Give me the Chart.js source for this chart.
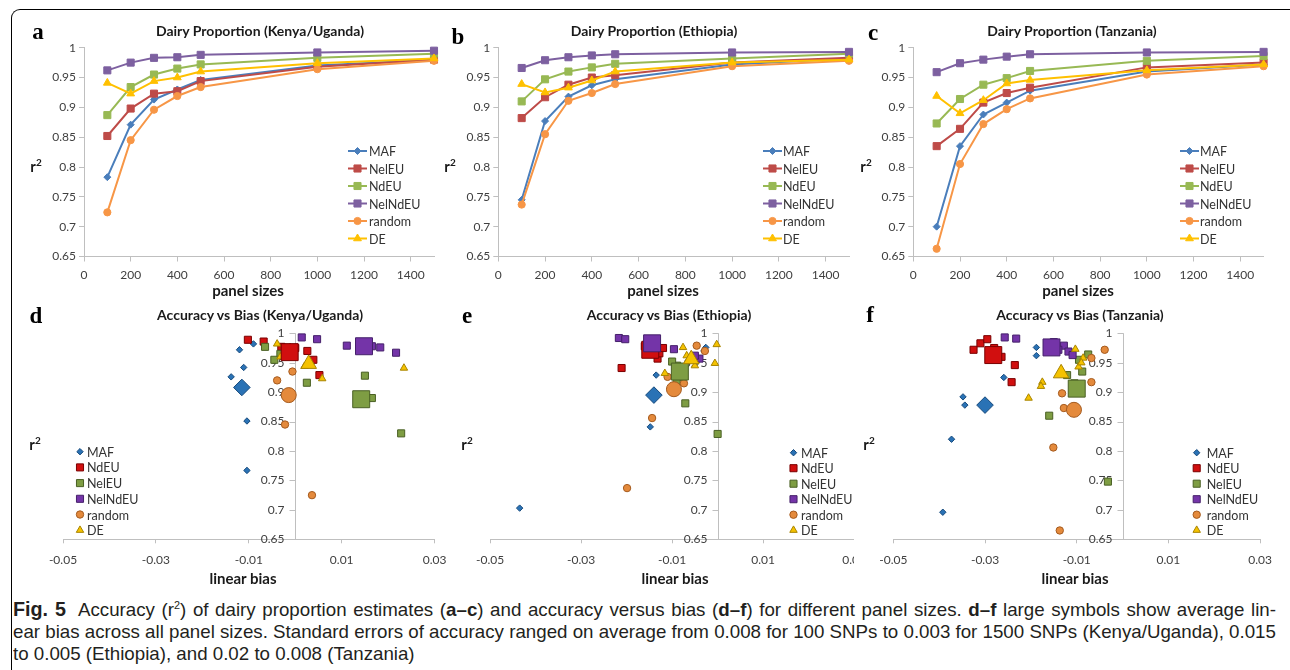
<!DOCTYPE html>
<html>
<head>
<meta charset="utf-8">
<script src="https://cdn.jsdelivr.net/npm/chart.js@4.4.1/dist/chart.umd.min.js"></script>
<style>
  body { margin: 0; width: 1290px; height: 670px; overflow: hidden; position: relative; background: #fff; font-family: Lato, "Liberation Sans", sans-serif; }
  .frame { position: absolute; left: 11px; top: 9px; width: 1300px; height: 700px; border-top: 1px solid #000; border-left: 1px solid #000; border-top-left-radius: 9px; }
  canvas { position: absolute; z-index: 1; }
  #cvF { background: #fff; }
  .lbl { position: absolute; white-space: nowrap; transform: translate(-50%, -50%); line-height: 1; z-index: 2; color: #1a1a1a; }
  .letter { font-family: "Liberation Serif", "DejaVu Serif", serif; font-weight: bold; font-size: 23px; color: #000; }
  .title { font-weight: bold; font-size: 14px; }
  .axt { font-weight: bold; font-size: 15px; }
  .rr { font-weight: bold; font-size: 15px; }
  .rr sup { font-size: 10px; vertical-align: 6px; }
  .cl { position: absolute; left: 13px; width: 1263px; height: 22px; line-height: 22px; white-space: nowrap; font-family: "Liberation Sans", Arial, sans-serif; font-size: 19px; color: #231f20; z-index: 2; transform-origin: 0 0; }
  .cl .fig { font-size: 20px; }
  .j { text-align: justify; text-align-last: justify; }
  .cl sup { font-size: 11px; line-height: 0; }
</style>
</head>
<body>
<div class="frame"></div>

<canvas id="cvA" width="400" height="254" style="left:40px;top:36px"></canvas>
<canvas id="cvB" width="400" height="254" style="left:455px;top:36px"></canvas>
<canvas id="cvC" width="410" height="254" style="left:870px;top:36px"></canvas>
<canvas id="cvD" width="440" height="270" style="left:20px;top:320px"></canvas>
<canvas id="cvE" width="410" height="270" style="left:466px;top:320px"></canvas>
<canvas id="cvF" width="428" height="270" style="left:854px;top:320px"></canvas>

<div class="lbl letter" style="left:38px;top:31px">a</div>
<div class="lbl letter" style="left:458px;top:36px">b</div>
<div class="lbl letter" style="left:873px;top:32px">c</div>
<div class="lbl letter" style="left:36px;top:315px">d</div>
<div class="lbl letter" style="left:467px;top:315px">e</div>
<div class="lbl letter" style="left:870px;top:314px">f</div>

<div class="lbl title" style="left:260px;top:31px">Dairy Proportion (Kenya/Uganda)</div>
<div class="lbl title" style="left:654px;top:31px">Dairy Proportion (Ethiopia)</div>
<div class="lbl title" style="left:1072px;top:31px">Dairy Proportion (Tanzania)</div>
<div class="lbl title" style="left:260px;top:315px">Accuracy vs Bias (Kenya/Uganda)</div>
<div class="lbl title" style="left:669px;top:315px">Accuracy vs Bias (Ethiopia)</div>
<div class="lbl title" style="left:1080px;top:315px">Accuracy vs Bias (Tanzania)</div>

<div class="lbl axt" style="left:248px;top:290px">panel sizes</div>
<div class="lbl axt" style="left:663px;top:290px">panel sizes</div>
<div class="lbl axt" style="left:1078px;top:290px">panel sizes</div>
<div class="lbl axt" style="left:243px;top:578px">linear bias</div>
<div class="lbl axt" style="left:675px;top:578px">linear bias</div>
<div class="lbl axt" style="left:1075px;top:578px">linear bias</div>

<div class="lbl rr" style="left:36px;top:165px">r<sup>2</sup></div>
<div class="lbl rr" style="left:450px;top:165px">r<sup>2</sup></div>
<div class="lbl rr" style="left:866px;top:165px">r<sup>2</sup></div>
<div class="lbl rr" style="left:35px;top:443px">r<sup>2</sup></div>
<div class="lbl rr" style="left:467px;top:443px">r<sup>2</sup></div>
<div class="lbl rr" style="left:869px;top:443px">r<sup>2</sup></div>

<div class="cl j" id="cap1" style="top:598px"><b class="fig">Fig. 5</b>&nbsp; Accuracy (r<sup>2</sup>) of dairy proportion estimates (<b>a–c</b>) and accuracy versus bias (<b>d–f</b>) for different panel sizes. <b>d–f</b> large symbols show average lin-</div>
<div class="cl j" id="cap2" style="top:621px">ear bias across all panel sizes. Standard errors of accuracy ranged on average from 0.008 for 100 SNPs to 0.003 for 1500 SNPs (Kenya/Uganda), 0.015</div>
<div class="cl" style="top:643px">to 0.005 (Ethiopia), and 0.02 to 0.008 (Tanzania)</div>

<script>
// ---------------- data ----------------
const panelSizes = [100, 200, 300, 400, 500, 1000, 1500];
const sizeTicks = [0, 200, 400, 600, 800, 1000, 1200, 1400];
const r2Ticks = [0.65, 0.7, 0.75, 0.8, 0.85, 0.9, 0.95, 1];
const biasTicks = [-0.05, -0.03, -0.01, 0.01, 0.03];

const lineSeries = ["MAF", "NelEU", "NdEU", "NelNdEU", "random", "DE"];
const biasSeries = ["MAF", "NdEU", "NelEU", "NelNdEU", "random", "DE"];

// accuracy by panel size (a-c)
const kuMAF     = [0.783, 0.871, 0.913, 0.930, 0.946, 0.970, 0.980];
const kuNelEU   = [0.852, 0.898, 0.923, 0.927, 0.944, 0.968, 0.980];
const kuNdEU    = [0.887, 0.934, 0.955, 0.965, 0.972, 0.983, 0.990];
const kuNelNdEU = [0.962, 0.975, 0.983, 0.984, 0.988, 0.992, 0.995];
const kuRandom  = [0.724, 0.845, 0.896, 0.919, 0.934, 0.964, 0.978];
const kuDE      = [0.941, 0.923, 0.944, 0.950, 0.960, 0.974, 0.982];

const etMAF     = [0.745, 0.877, 0.918, 0.937, 0.947, 0.972, 0.982];
const etNelEU   = [0.882, 0.917, 0.938, 0.950, 0.954, 0.975, 0.983];
const etNdEU    = [0.910, 0.947, 0.960, 0.967, 0.973, 0.982, 0.990];
const etNelNdEU = [0.966, 0.979, 0.984, 0.987, 0.989, 0.992, 0.993];
const etRandom  = [0.737, 0.855, 0.911, 0.924, 0.939, 0.969, 0.978];
const etDE      = [0.939, 0.925, 0.933, 0.945, 0.960, 0.975, 0.980];

const tzMAF     = [0.700, 0.835, 0.888, 0.908, 0.928, 0.960, 0.972];
const tzNelEU   = [0.835, 0.864, 0.908, 0.924, 0.933, 0.967, 0.975];
const tzNdEU    = [0.873, 0.914, 0.938, 0.949, 0.961, 0.978, 0.986];
const tzNelNdEU = [0.959, 0.974, 0.980, 0.985, 0.989, 0.992, 0.993];
const tzRandom  = [0.663, 0.805, 0.872, 0.897, 0.915, 0.955, 0.969];
const tzDE      = [0.919, 0.890, 0.912, 0.940, 0.946, 0.962, 0.972];

// accuracy vs linear bias (d-f): [bias, r2] per panel size, plus the average
const kuBiasMAF     = [[-0.0120, 0.972], [-0.0090, 0.982], [-0.0111, 0.942], [-0.0138, 0.926], [-0.0104, 0.851], [-0.0104, 0.767], [-0.0118, 0.905]];
const kuBiasNdEU    = [[-0.0102, 0.989], [-0.0068, 0.986], [-0.0030, 0.977], [0.0000, 0.975], [0.0026, 0.970], [0.0039, 0.955], [0.0052, 0.929]];
const kuBiasNelEU   = [[-0.0065, 0.977], [-0.0032, 0.965], [-0.0045, 0.955], [0.0025, 0.916], [0.0150, 0.928], [0.0165, 0.890], [0.0228, 0.830]];
const kuBiasNelNdEU = [[0.0014, 0.993], [0.0047, 0.990], [0.0111, 0.979], [0.0140, 0.982], [0.0165, 0.978], [0.0183, 0.976], [0.0217, 0.967]];
const kuBiasRandom  = [[0.0036, 0.725], [-0.0022, 0.845], [-0.0015, 0.896], [-0.0039, 0.920], [-0.0006, 0.935], [-0.0020, 0.962], [-0.0010, 0.975]];
const kuBiasDE      = [[0.0234, 0.941], [0.0058, 0.923], [0.0020, 0.944], [0.0032, 0.951], [-0.0032, 0.960], [-0.0011, 0.976], [-0.0039, 0.982]];
const kuAvgMAF = [-0.0115, 0.908], kuAvgNdEU = [-0.0012, 0.968], kuAvgNelEU = [0.0142, 0.888];
const kuAvgNelNdEU = [0.0148, 0.978], kuAvgRandom = [-0.0014, 0.895], kuAvgDE = [0.0029, 0.948];

const etBiasMAF     = [[-0.0435, 0.703], [-0.0148, 0.841], [-0.0135, 0.929], [-0.0026, 0.976], [-0.0060, 0.955], [-0.0045, 0.960], [-0.0030, 0.970]];
const etBiasNdEU    = [[-0.0211, 0.941], [-0.0153, 0.990], [-0.0160, 0.978], [-0.0132, 0.957], [-0.0128, 0.966], [-0.0140, 0.982], [-0.0120, 0.975]];
const etBiasNelEU   = [[-0.0089, 0.945], [-0.0082, 0.926], [-0.0071, 0.881], [0.0000, 0.829], [-0.0100, 0.952], [-0.0075, 0.935], [-0.0090, 0.918]];
const etBiasNelNdEU = [[-0.0217, 0.992], [-0.0203, 0.990], [-0.0096, 0.973], [-0.0040, 0.957], [-0.0145, 0.990], [-0.0050, 0.962], [-0.0140, 0.975]];
const etBiasRandom  = [[-0.0199, 0.737], [-0.0144, 0.856], [-0.0110, 0.926], [-0.0074, 0.915], [-0.0046, 0.979], [-0.0028, 0.970], [-0.0090, 0.905]];
const etBiasDE      = [[-0.0002, 0.981], [-0.0006, 0.949], [-0.0076, 0.976], [-0.0116, 0.932], [-0.0060, 0.955], [-0.0050, 0.945], [-0.0068, 0.962]];
const etAvgMAF = [-0.0140, 0.895], etAvgNdEU = [-0.0148, 0.972], etAvgNelEU = [-0.0083, 0.935];
const etAvgNelNdEU = [-0.0144, 0.983], etAvgRandom = [-0.0096, 0.905], etAvgDE = [-0.0058, 0.956];

const tzBiasMAF     = [[-0.0188, 0.976], [-0.0188, 0.962], [-0.0259, 0.925], [-0.0348, 0.892], [-0.0344, 0.878], [-0.0373, 0.820], [-0.0392, 0.696]];
const tzBiasNdEU    = [[-0.0325, 0.972], [-0.0310, 0.983], [-0.0295, 0.990], [-0.0264, 0.960], [-0.0235, 0.946], [-0.0242, 0.917], [-0.0280, 0.975]];
const tzBiasNelEU   = [[-0.0075, 0.964], [-0.0088, 0.935], [-0.0121, 0.929], [-0.0160, 0.860], [-0.0032, 0.748], [-0.0095, 0.955], [-0.0105, 0.915]];
const tzBiasNelNdEU = [[-0.0257, 0.993], [-0.0232, 0.991], [-0.0128, 0.979], [-0.0118, 0.969], [-0.0109, 0.963], [-0.0150, 0.985], [-0.0140, 0.972]];
const tzBiasRandom  = [[-0.0039, 0.972], [-0.0068, 0.958], [-0.0068, 0.917], [-0.0132, 0.898], [-0.0128, 0.873], [-0.0151, 0.806], [-0.0137, 0.665]];
const tzBiasDE      = [[-0.0205, 0.890], [-0.0175, 0.917], [-0.0178, 0.910], [-0.0103, 0.973], [-0.0096, 0.943], [-0.0086, 0.958], [-0.0090, 0.950]];
const tzAvgMAF = [-0.0300, 0.878], tzAvgNdEU = [-0.0282, 0.963], tzAvgNelEU = [-0.0100, 0.906];
const tzAvgNelNdEU = [-0.0155, 0.976], tzAvgRandom = [-0.0106, 0.870], tzAvgDE = [-0.0134, 0.932];

// ---------------- styles ----------------
const lineStyle = {
    MAF:     { color: "#4A7EBB", point: "rectRot",  radius: 3.5 },
    NelEU:   { color: "#BE4B48", point: "rect",     radius: 5 },
    NdEU:    { color: "#98B954", point: "rect",     radius: 5 },
    NelNdEU: { color: "#7D60A0", point: "rect",     radius: 5 },
    random:  { color: "#F79646", point: "circle",   radius: 3.6 },
    DE:      { color: "#FFC000", point: "triangle", radius: 4.5 },
};
const biasStyle = {
    MAF:     { color: "#2A72B5", edge: "#174A7C", point: "rectRot",  small: 3.2, big: 8.3 },
    NdEU:    { color: "#D10F0F", edge: "#7A0000", point: "rect",     small: 5,   big: 12 },
    NelEU:   { color: "#7E9D43", edge: "#4A6024", point: "rect",     small: 5,   big: 12 },
    NelNdEU: { color: "#7434A8", edge: "#45206A", point: "rect",     small: 5,   big: 12 },
    random:  { color: "#E48A3C", edge: "#A45A1E", point: "circle",   small: 3.7, big: 7.5 },
    DE:      { color: "#F5C200", edge: "#A88400", point: "triangle", small: 4.3, big: 9 },
};

const axisGrey = "#BFBFBF";
const tickFont = { family: "Lato", size: 12 };
const fmt = (v) => String(Number(v.toFixed(2)));

// legend drawn inside the plot, like the Excel originals
const insideLegend = {
    id: "insideLegend",
    afterDraw(chart, args, opts) {
        const ctx = chart.ctx;
        ctx.save();
        ctx.font = "12.5px Lato";
        ctx.textBaseline = "middle";
        ctx.textAlign = "left";
        let y = opts.y;
        chart.data.datasets.forEach((ds) => {
            if (!ds.inLegend) return;
            let mx = opts.x;
            if (opts.lineLen) {
                ctx.strokeStyle = ds.borderColor;
                ctx.lineWidth = 2;
                ctx.beginPath();
                ctx.moveTo(opts.x, y);
                ctx.lineTo(opts.x + opts.lineLen, y);
                ctx.stroke();
                mx = opts.x + opts.lineLen / 2;
            }
            ctx.fillStyle = ds.pointBackgroundColor;
            ctx.strokeStyle = ds.pointBorderColor;
            ctx.lineWidth = 1;
            Chart.helpers.drawPoint(ctx, { pointStyle: ds.pointStyle, radius: ds.pointRadius, rotation: 0, borderWidth: 1 }, mx, y);
            ctx.fillStyle = "#333";
            ctx.fillText(ds.label, opts.textX, y + 1);
            y += opts.gap;
        });
        ctx.restore();
    },
};

// vertical r2 axis crossing the bias axis at zero (Excel style)
const zeroAxis = {
    id: "zeroAxis",
    beforeDatasetsDraw(chart) {
        const { ctx } = chart;
        const xs = chart.scales.x, ys = chart.scales.y;
        const px = Math.round(xs.getPixelForValue(0)) + 0.5;
        ctx.save();
        ctx.strokeStyle = axisGrey;
        ctx.lineWidth = 1;
        ctx.beginPath();
        ctx.moveTo(px, ys.getPixelForValue(ys.min));
        ctx.lineTo(px, ys.getPixelForValue(ys.max));
        r2Ticks.forEach((v) => {
            const py = Math.round(ys.getPixelForValue(v)) + 0.5;
            ctx.moveTo(px - 6, py);
            ctx.lineTo(px, py);
        });
        ctx.stroke();
        ctx.font = "12px Lato";
        ctx.fillStyle = "#404040";
        ctx.textAlign = "right";
        ctx.textBaseline = "middle";
        r2Ticks.forEach((v) => ctx.fillText(fmt(v), px - 11, ys.getPixelForValue(v)));
        ctx.restore();
    },
};

function makeLineChart(id, values, yWidth, padRight, legend) {
    const datasets = lineSeries.map((name, i) => {
        const st = lineStyle[name];
        return {
            label: name,
            inLegend: true,
            data: panelSizes.map((x, k) => ({ x: x, y: values[i][k] })),
            borderColor: st.color,
            backgroundColor: st.color,
            pointBackgroundColor: st.color,
            pointBorderColor: st.color,
            pointStyle: st.point,
            pointRadius: st.radius,
            pointBorderWidth: 1,
            borderWidth: 2,
            tension: 0,
            clip: false,
            order: lineSeries.length - i,
        };
    });
    return new Chart(document.getElementById(id), {
        type: "line",
        data: { datasets },
        options: {
            responsive: false,
            animation: false,
            events: [],
            layout: { padding: { top: 11.7, right: padRight, left: 0, bottom: 0 } },
            scales: {
                x: {
                    type: "linear", min: 0, max: 1500,
                    afterBuildTicks: (s) => { s.ticks = sizeTicks.map((v) => ({ value: v })); },
                    afterFit: (s) => { s.height = 33.5; },
                    ticks: { font: tickFont, color: "#404040", padding: 6, maxRotation: 0, callback: (v) => String(v) },
                    grid: { drawOnChartArea: false, color: axisGrey, tickLength: 5 },
                    border: { color: axisGrey },
                },
                y: {
                    type: "linear", min: 0.65, max: 1,
                    afterBuildTicks: (s) => { s.ticks = r2Ticks.map((v) => ({ value: v })); },
                    afterFit: (s) => { s.width = yWidth; },
                    ticks: { font: tickFont, color: "#404040", padding: 3, callback: fmt },
                    grid: { drawOnChartArea: false, color: axisGrey, tickLength: 5 },
                    border: { color: axisGrey },
                },
            },
            plugins: { legend: { display: false }, tooltip: { enabled: false }, insideLegend: legend },
        },
        plugins: [insideLegend],
    });
}

function makeBiasChart(id, points, averages, pad, legend) {
    const toXY = (arr) => arr.map((p) => ({ x: p[0], y: p[1] }));
    const small = biasSeries.map((name, i) => {
        const st = biasStyle[name];
        return {
            label: name, inLegend: true, data: toXY(points[i]),
            pointStyle: st.point, pointRadius: st.small, pointBorderWidth: 1,
            pointBackgroundColor: st.color, pointBorderColor: st.edge,
            backgroundColor: st.color, borderColor: st.edge, clip: false,
            order: 20 - i,
        };
    });
    const big = biasSeries.map((name, i) => {
        const st = biasStyle[name];
        return {
            label: name + " average", inLegend: false, data: toXY([averages[i]]),
            pointStyle: st.point, pointRadius: st.big, pointBorderWidth: 1,
            pointBackgroundColor: st.color, pointBorderColor: st.edge,
            backgroundColor: st.color, borderColor: st.edge, clip: false,
            order: 10 - i,
        };
    });
    return new Chart(document.getElementById(id), {
        type: "scatter",
        data: { datasets: small.concat(big) },
        options: {
            responsive: false,
            animation: false,
            events: [],
            layout: { padding: pad },
            scales: {
                x: {
                    type: "linear", position: "bottom", min: -0.05, max: 0.03,
                    afterBuildTicks: (s) => { s.ticks = biasTicks.map((v) => ({ value: v })); },
                    afterFit: (s) => { s.height = 50.7; },
                    ticks: { font: tickFont, color: "#404040", padding: 10, maxRotation: 0, callback: fmt },
                    grid: { drawOnChartArea: false, color: axisGrey, tickLength: 4 },
                    border: { color: axisGrey },
                },
                y: { type: "linear", min: 0.65, max: 1, display: false },
            },
            plugins: { legend: { display: false }, tooltip: { enabled: false }, insideLegend: legend },
        },
        plugins: [zeroAxis, insideLegend],
    });
}

// ---------------- charts ----------------
makeLineChart("cvA", [kuMAF, kuNelEU, kuNdEU, kuNelNdEU, kuRandom, kuDE], 44, 6,
    { x: 308, lineLen: 19, textX: 329, y: 115, gap: 17.5 });
makeLineChart("cvB", [etMAF, etNelEU, etNdEU, etNelNdEU, etRandom, etDE], 43.3, 6,
    { x: 308, lineLen: 19, textX: 328, y: 115, gap: 17.5 });
makeLineChart("cvC", [tzMAF, tzNelEU, tzNdEU, tzNelNdEU, tzRandom, tzDE], 43.3, 16.4,
    { x: 310, lineLen: 19, textX: 330, y: 115, gap: 17.5 });

makeBiasChart("cvD",
    [kuBiasMAF, kuBiasNdEU, kuBiasNelEU, kuBiasNelNdEU, kuBiasRandom, kuBiasDE],
    [kuAvgMAF, kuAvgNdEU, kuAvgNelEU, kuAvgNelNdEU, kuAvgRandom, kuAvgDE],
    { top: 13.3, left: 43, right: 25.4, bottom: 0 },
    { x: 60, textX: 67, y: 131.7, gap: 15.7 });
makeBiasChart("cvE",
    [etBiasMAF, etBiasNdEU, etBiasNelEU, etBiasNelNdEU, etBiasRandom, etBiasDE],
    [etAvgMAF, etAvgNdEU, etAvgNelEU, etAvgNelNdEU, etAvgRandom, etAvgDE],
    { top: 13.3, left: 20.7, right: 15.3, bottom: 0 },
    { x: 327.5, textX: 335, y: 132.7, gap: 15.5 });
makeBiasChart("cvF",
    [tzBiasMAF, tzBiasNdEU, tzBiasNelEU, tzBiasNelNdEU, tzBiasRandom, tzBiasDE],
    [tzAvgMAF, tzAvgNdEU, tzAvgNelEU, tzAvgNelNdEU, tzAvgRandom, tzAvgDE],
    { top: 13.3, left: 39.3, right: 17, bottom: 0 },
    { x: 342.7, textX: 352.7, y: 132.7, gap: 15.5 });

// squeeze the caption horizontally so its full lines span the frame (condensed face)
function naturalWidth(el) {
    el.style.width = "auto";
    const w = el.getBoundingClientRect().width;
    el.style.width = "";
    return w;
}
const capLines = document.querySelectorAll(".cl");
const natural = Math.max(naturalWidth(document.getElementById("cap1")), naturalWidth(document.getElementById("cap2")));
const squeeze = 1263 / natural;
capLines.forEach((el) => {
    el.style.width = natural + "px";
    el.style.transform = "scaleX(" + squeeze.toFixed(4) + ")";
});
</script>
</body>
</html>
